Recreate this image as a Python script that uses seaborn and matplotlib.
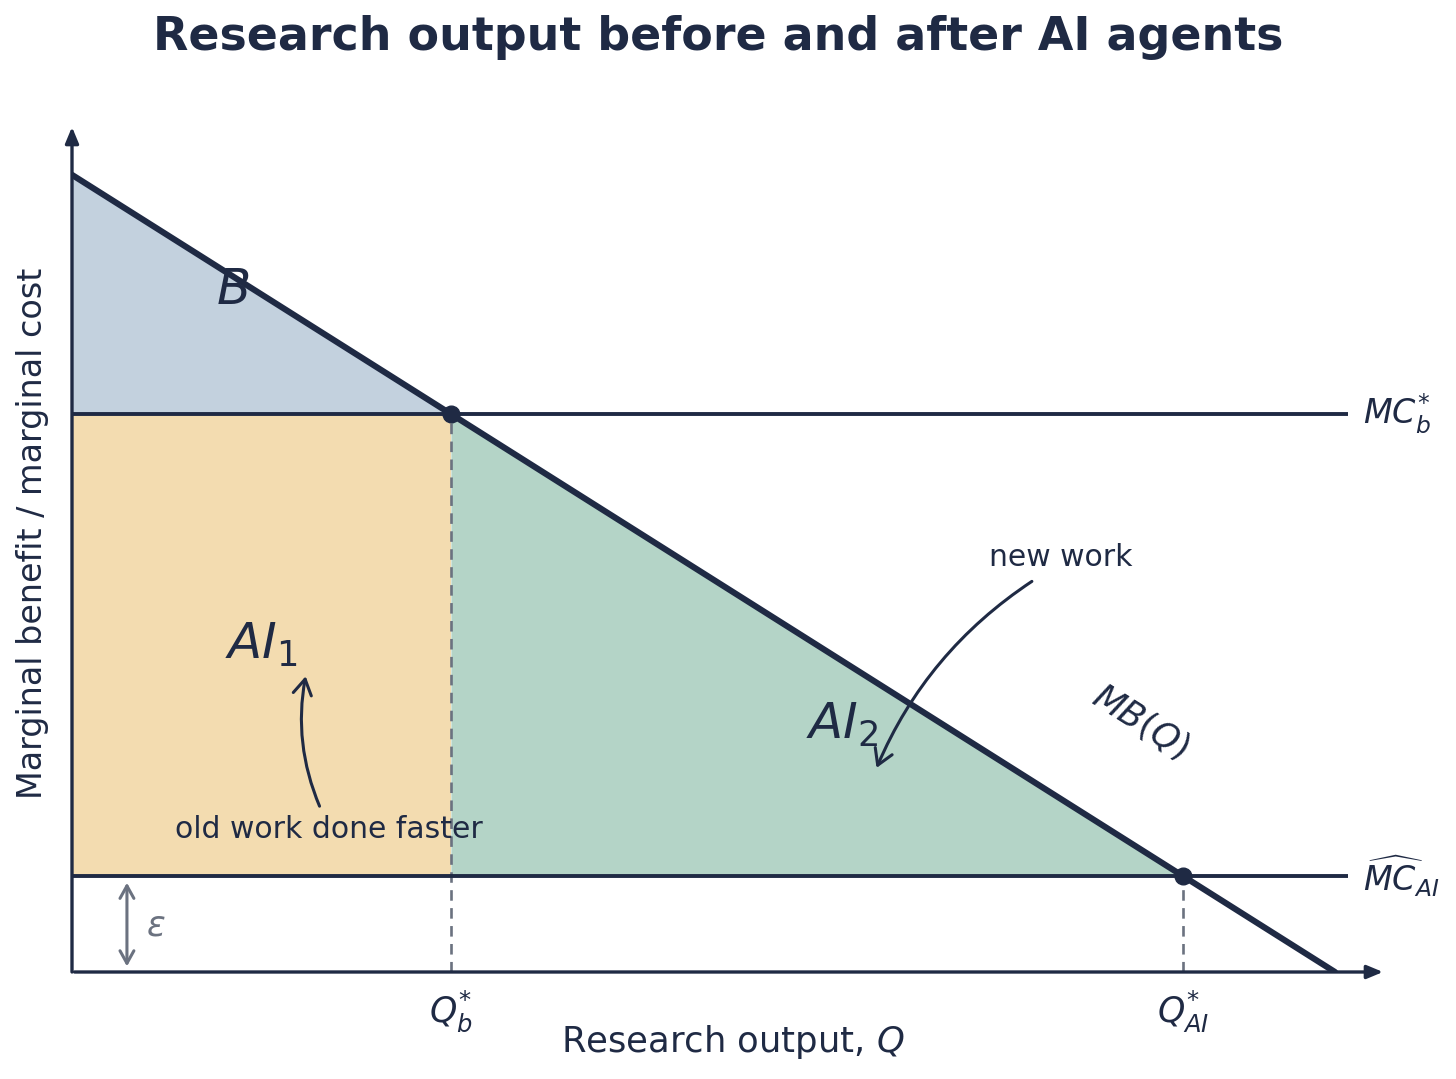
import matplotlib
matplotlib.use("Agg")
import matplotlib.pyplot as plt
import seaborn as sns
import pandas as pd

# ---- data ----
mb_q = [0.0, 10.0]          # research output Q at the ends of MB(Q)
mb_val = [10.0, 0.0]        # marginal benefit at those ends
mc_b = 7.0                  # MC*_b level
mc_ai = 1.2                 # MC_AI level
q_b = 3.0                   # Q*_b
q_ai = 8.8                  # Q*_AI
tick_pos = [q_b, q_ai]
tick_labels = [r'$Q_b^{*}$', r'$Q_{AI}^{*}$']
region_labels = [r'$B$', r'$AI_1$', r'$AI_2$']

NAVY = "#1f2a44"
GRAY = "#6b7280"
C_B = "#c3d1de"
C_AI1 = "#f3dcb0"
C_AI2 = "#b4d4c7"

sns.set_theme(style="white")
plt.rcParams['font.family'] = ['DejaVu Sans']
plt.rcParams['mathtext.fontset'] = 'dejavusans'

fig = plt.figure(figsize=(14.56, 10.79), dpi=100)
ax = fig.add_axes([72/1456, (1079-972)/1079, 1311/1456, 845/1079])
ax.set_xlim(0, 10.38)
ax.set_ylim(0, 10.6)

# fills
ax.fill_between([0, q_b], [mb_val[0], mc_b], [mc_b, mc_b], color=C_B, lw=0, zorder=1)
ax.fill_between([0, q_b], [mc_ai, mc_ai], [mc_b, mc_b], color=C_AI1, lw=0, zorder=1)
ax.fill_between([q_b, q_ai], [mc_ai, mc_ai], [mc_b, mc_ai], color=C_AI2, lw=0, zorder=1)

# dashed guides
ax.vlines([q_b], 0, mc_b, colors=GRAY, lw=1.9, linestyles=(0, (4, 2.8)), zorder=2)
ax.vlines([q_ai], 0, mc_ai, colors=GRAY, lw=1.9, linestyles=(0, (4, 2.8)), zorder=2)

# MC lines
ax.hlines([mc_b, mc_ai], 0, 10.1, colors=NAVY, lw=2.8, zorder=3)

# MB line
df = pd.DataFrame({"Q": mb_q, "MB": mb_val})
sns.lineplot(data=df, x="Q", y="MB", ax=ax, color=NAVY, lw=4.4, zorder=4,
             solid_capstyle='round')

# intersections
ax.plot([q_b, q_ai], [mc_b, mc_ai], 'o', color=NAVY, ms=12, zorder=5)

# axes arrows
ax.annotate("", xy=(10.38, 0), xytext=(0.02, 0), annotation_clip=False,
            arrowprops=dict(arrowstyle="-|>,head_length=0.6,head_width=0.25",
                            color=NAVY, lw=2.4, mutation_scale=16,
                            shrinkA=0, shrinkB=0), zorder=3)
ax.annotate("", xy=(0, 10.6), xytext=(0, 0.0), annotation_clip=False,
            arrowprops=dict(arrowstyle="-|>,head_length=0.6,head_width=0.25",
                            color=NAVY, lw=2.4, mutation_scale=16,
                            shrinkA=0, shrinkB=0), zorder=3)

# epsilon arrow
ax.annotate("", xy=(0.435, 0.07), xytext=(0.435, 1.12),
            arrowprops=dict(arrowstyle="<->,head_length=0.45,head_width=0.25",
                            color=GRAY, lw=2.2, mutation_scale=20,
                            shrinkA=0, shrinkB=0))
ax.text(0.66, 0.58, r'$\varepsilon$', color=GRAY, fontsize=25, ha='center', va='center')

# region labels
ax.text(1.27, 8.56, region_labels[0], color=NAVY, fontsize=36, ha='center', va='center', zorder=6)
ax.text(1.5, 4.1, region_labels[1], color=NAVY, fontsize=36, ha='center', va='center', zorder=6)
ax.text(6.1, 3.1, region_labels[2], color=NAVY, fontsize=36, ha='center', va='center', zorder=6)

# MB label
ax.text(8.46, 3.14, r'$MB(Q)$', color=NAVY, fontsize=25, ha='center', va='center',
        rotation=-32.3, rotation_mode='anchor')

# MC labels
ax.text(10.22, mc_b, r'$MC_b^{*}$', color=NAVY, fontsize=24, ha='left', va='center')
ax.text(10.22, mc_ai, r'$\widehat{MC}_{AI}$', color=NAVY, fontsize=24, ha='left', va='center')

# annotations
ax.text(2.03, 1.79, "old work done faster", color=NAVY, fontsize=21.5, ha='center', va='center', zorder=6)
ax.annotate("", xy=(1.85, 3.71), xytext=(1.96, 2.08),
            arrowprops=dict(arrowstyle="->,head_length=0.5,head_width=0.3",
                            color=NAVY, lw=2.2, mutation_scale=22,
                            shrinkA=0, shrinkB=0,
                            connectionstyle="arc3,rad=-0.15"), zorder=6)
ax.text(7.83, 5.2, "new work", color=NAVY, fontsize=21.5, ha='center', va='center')
ax.annotate("", xy=(6.37, 2.56), xytext=(7.6, 4.9),
            arrowprops=dict(arrowstyle="->,head_length=0.5,head_width=0.3",
                            color=NAVY, lw=2.2, mutation_scale=22,
                            shrinkA=0, shrinkB=0,
                            connectionstyle="arc3,rad=0.15"), zorder=6)

# ticks & labels
ax.set_xticks(tick_pos, tick_labels)
ax.set_yticks([])
ax.tick_params(axis='x', length=0, pad=12, labelsize=25, labelcolor=NAVY)
sns.despine(ax=ax, left=True, bottom=True)
ax.set_xlabel(r'Research output, $Q$', fontsize=25.5, color=NAVY)
ax.set_ylabel('Marginal benefit / marginal cost', fontsize=24, color=NAVY)
ax.xaxis.set_label_coords((733-72)/1311, (972-1042)/845)
ax.xaxis.label.set_verticalalignment('center')
ax.yaxis.set_label_coords((33-72)/1311, (972-533)/845)
ax.yaxis.label.set_verticalalignment('center')

fig.text(718/1456, 1-38/1079, "Research output before and after AI agents",
         fontsize=33, fontweight='bold', color=NAVY, ha='center', va='center')

fig.savefig("out.png", dpi=100)
